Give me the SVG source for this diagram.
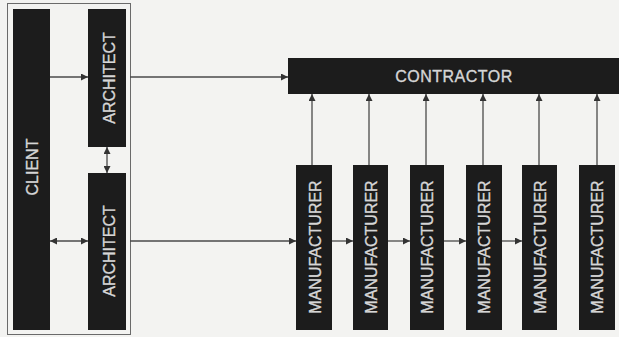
<svg xmlns="http://www.w3.org/2000/svg" width="619" height="337" viewBox="0 0 619 337">
<style>
.box{fill:#1c1c1c}
.lbl{font-family:"Liberation Sans",Arial,sans-serif;font-size:16px;fill:#d6d6d6;stroke:#d6d6d6;stroke-width:0.35;text-anchor:middle;dominant-baseline:central}
.ln{stroke:#4a4a4a;stroke-width:1.3;fill:none}
</style>
<defs>
<marker id="ah" viewBox="0 0 10 10" refX="10" refY="5" markerWidth="7" markerHeight="7" markerUnits="userSpaceOnUse" orient="auto-start-reverse">
<path d="M0,0 L10,5 L0,10 z" fill="#333"/>
</marker>
</defs>
<rect width="619" height="337" fill="#f3f3f1"/>
<rect x="7.5" y="3.5" width="123" height="331" fill="none" stroke="#6a6a6a" stroke-width="1"/>
<g id="client"><rect class="box" x="13" y="9" width="37" height="321"/><text class="lbl" transform="translate(32,167) rotate(-90)">CLIENT</text></g>
<g id="architect1"><rect class="box" x="88" y="9" width="38" height="138"/><text class="lbl" transform="translate(109,78) rotate(-90)">ARCHITECT</text></g>
<g id="architect2"><rect class="box" x="88" y="173" width="38" height="157"/><text class="lbl" transform="translate(109,251) rotate(-90)">ARCHITECT</text></g>
<g id="contractor"><rect class="box" x="288" y="58" width="331" height="36"/><text class="lbl" x="454" y="76" letter-spacing="0.5">CONTRACTOR</text></g>
<g id="manufacturer1"><rect class="box" x="296" y="165" width="36" height="165"/><text class="lbl" transform="translate(315,247) rotate(-90)">MANUFACTURER</text></g>
<g id="manufacturer2"><rect class="box" x="353" y="165" width="35" height="165"/><text class="lbl" transform="translate(371,247) rotate(-90)">MANUFACTURER</text></g>
<g id="manufacturer3"><rect class="box" x="410" y="165" width="34" height="165"/><text class="lbl" transform="translate(427,247) rotate(-90)">MANUFACTURER</text></g>
<g id="manufacturer4"><rect class="box" x="466" y="165" width="36" height="165"/><text class="lbl" transform="translate(484,247) rotate(-90)">MANUFACTURER</text></g>
<g id="manufacturer5"><rect class="box" x="522" y="165" width="35" height="165"/><text class="lbl" transform="translate(540,247) rotate(-90)">MANUFACTURER</text></g>
<g id="manufacturer6"><rect class="box" x="579" y="165" width="36" height="165"/><text class="lbl" transform="translate(597,247) rotate(-90)">MANUFACTURER</text></g>
<g id="connectors">
<line class="ln" x1="50" y1="77" x2="88" y2="77" marker-end="url(#ah)"/>
<line class="ln" x1="107" y1="147" x2="107" y2="173" marker-start="url(#ah)" marker-end="url(#ah)"/>
<line class="ln" x1="50" y1="241" x2="88" y2="241" marker-start="url(#ah)" marker-end="url(#ah)"/>
<line class="ln" x1="130" y1="77" x2="288" y2="77" marker-end="url(#ah)"/>
<line class="ln" x1="130" y1="241" x2="296" y2="241" marker-end="url(#ah)"/>
<line class="ln" x1="332" y1="241" x2="353" y2="241" marker-end="url(#ah)"/>
<line class="ln" x1="388" y1="241" x2="410" y2="241" marker-end="url(#ah)"/>
<line class="ln" x1="444" y1="241" x2="466" y2="241" marker-end="url(#ah)"/>
<line class="ln" x1="502" y1="241" x2="522" y2="241" marker-end="url(#ah)"/>
<line class="ln" x1="312" y1="165" x2="312" y2="94" marker-end="url(#ah)"/>
<line class="ln" x1="369" y1="165" x2="369" y2="94" marker-end="url(#ah)"/>
<line class="ln" x1="426" y1="165" x2="426" y2="94" marker-end="url(#ah)"/>
<line class="ln" x1="483" y1="165" x2="483" y2="94" marker-end="url(#ah)"/>
<line class="ln" x1="539" y1="165" x2="539" y2="94" marker-end="url(#ah)"/>
<line class="ln" x1="597" y1="165" x2="597" y2="94" marker-end="url(#ah)"/>
</g>
</svg>
